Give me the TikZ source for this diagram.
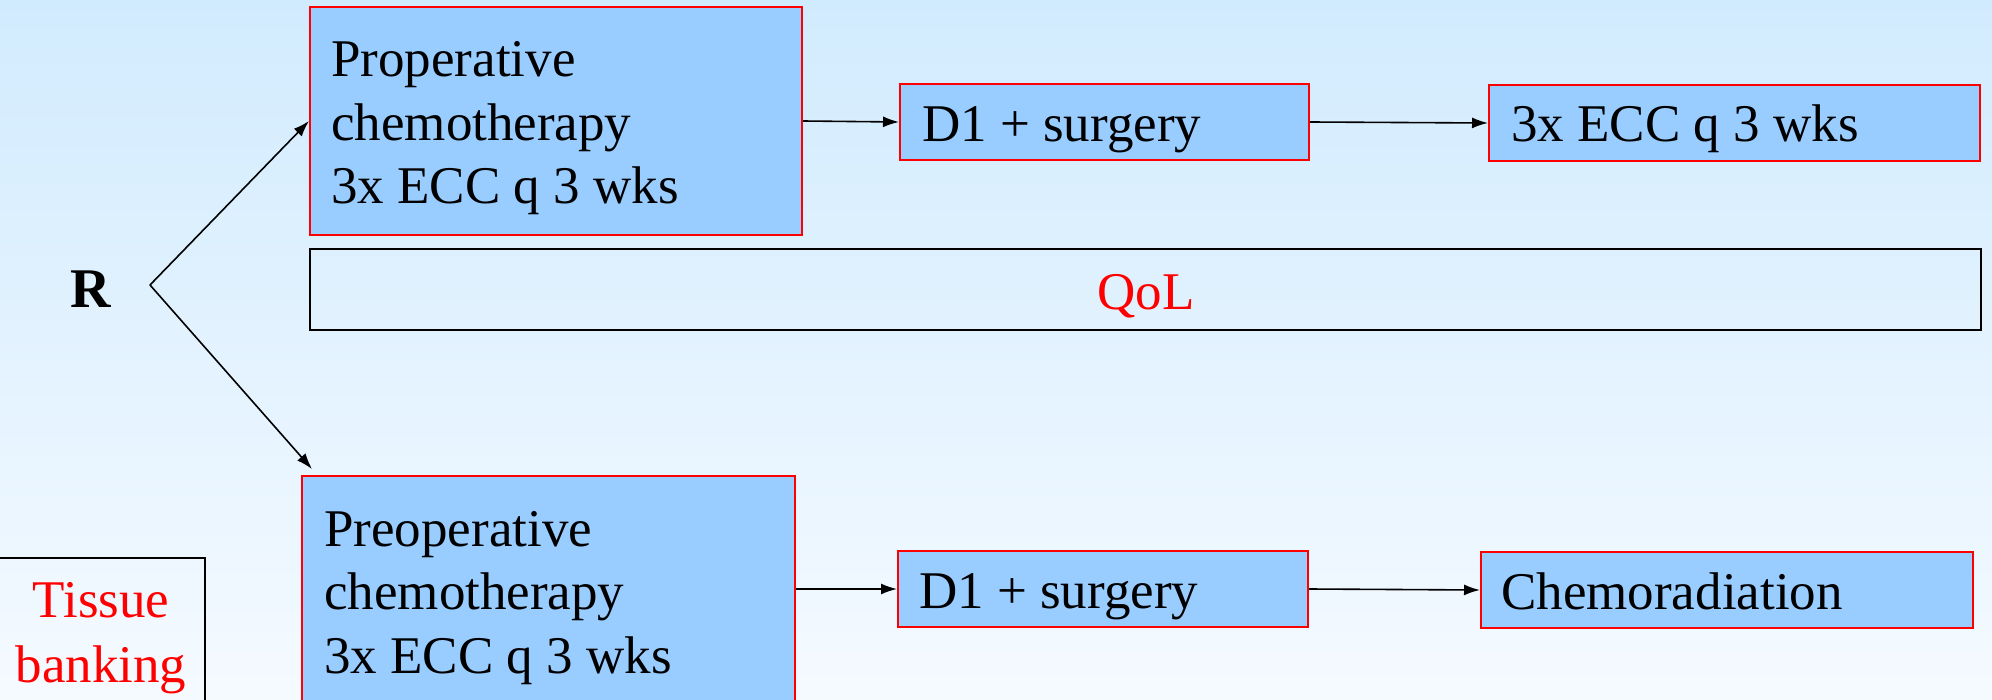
\documentclass[tikz,border=0pt]{standalone}
\usepackage{fontspec}
\setmainfont{Liberation Serif}
\usetikzlibrary{arrows.meta,calc}
\definecolor{bgtop}{RGB}{209,235,254}
\definecolor{bgbot}{RGB}{245,250,255}
\definecolor{boxfill}{RGB}{153,204,255}
\begin{document}
\begin{tikzpicture}[x=1pt,y=-1pt,
  pbox/.style={rectangle,draw=red,line width=2pt,fill=boxfill,inner sep=0pt},
  obox/.style={rectangle,draw=black,line width=2pt,inner sep=0pt},
  txt/.style={inner sep=0pt,anchor=base west,align=left,font=\fontsize{53}{63.5}\selectfont},
  redtxt/.style={inner sep=0pt,anchor=base,align=center,text=red,font=\fontsize{53}{65}\selectfont},
  arr/.style={line width=1.6pt,-{Latex[length=16pt,width=11pt]}}]
\useasboundingbox (0,0) rectangle (1992,700);
\clip (0,0) rectangle (1992,700);
\shade[top color=bgtop,bottom color=bgbot] (0,0) rectangle (1992,700);

% boxes
\node[pbox,minimum width=492pt,minimum height=228pt] (b1) at (556,121) {};
\node[pbox,minimum width=409pt,minimum height=76pt] (d1) at (1104.5,122) {};
\node[pbox,minimum width=491pt,minimum height=76pt] (e1) at (1734.5,123) {};
\node[obox,minimum width=1671pt,minimum height=81pt] (q) at (1145.5,289.5) {};
\node[pbox,minimum width=493pt,minimum height=226pt] (b2) at (548.5,589) {};
\node[pbox,minimum width=410pt,minimum height=76pt] (d2) at (1103,589) {};
\node[pbox,minimum width=492pt,minimum height=76pt] (c2) at (1727,590) {};
\node[obox,line width=1.5pt,minimum width=208pt,minimum height=172pt] (tb) at (101,644) {};

% texts (base = baseline of the last line)
\node[txt] (t1) at (331,204) {Properative\\chemotherapy\\3x ECC q 3 wks};
\node[txt] (td1) at (922,142) {D1 + surgery};
\node[txt] (te1) at (1511,142) {3x ECC q 3 wks};
\node[txt] (t2) at (324,673) {Preoperative\\chemotherapy\\3x ECC q 3 wks};
\node[txt] (td2) at (919,608) {D1 + surgery};
\node[txt] (tc2) at (1501,609) {Chemoradiation};
\node[redtxt] (tq) at (1146,310) {QoL};
\node[redtxt] (ttb) at (101,682) {Tissue\\banking};
\node[inner sep=0pt,anchor=base,font=\fontsize{56}{60}\selectfont\bfseries] (r) at (91,308) {R};

% connectors
\coordinate (apex) at (150,285);
\draw[arr] (apex) -- (b1.west);
\draw[arr] (apex) -- ([xshift=11pt,yshift=6pt]b2.north west);
\draw[arr] (b1.east) -- (d1.west);
\draw[arr] (d1.east) -- (e1.west);
\draw[arr] (b2.east) -- (d2.west);
\draw[arr] (d2.east) -- (c2.west);
\end{tikzpicture}
\end{document}
